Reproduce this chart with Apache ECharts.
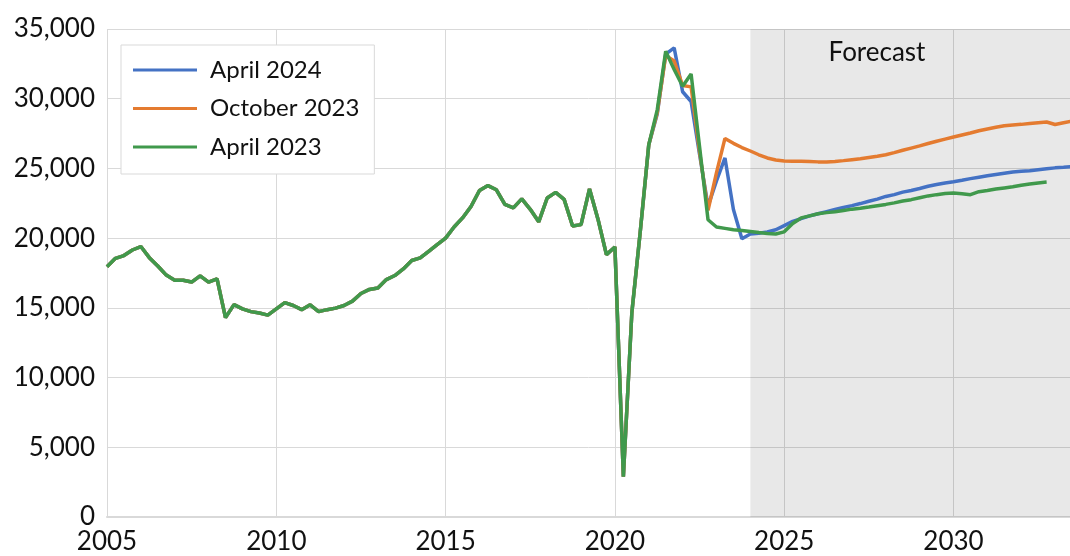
<!DOCTYPE html>
<html>
<head>
<meta charset="utf-8">
<script src="https://cdn.jsdelivr.net/npm/echarts@6/dist/echarts.min.js"></script>
<style>
html,body{margin:0;padding:0;background:#fff;}
#chart{width:1070px;height:556px;}
</style>
</head>
<body>
<div id="chart"></div>
<script>
// Quarterly series, first point = 2005 Q1
const startYear = 2005;
const forecastStart = 2024;
const xMin = 2005, xMax = 2033.44;
const seriesNames = ['April 2024', 'October 2023', 'April 2023'];
const seriesColors = ['#4472C4', '#E47B30', '#40994C'];

// Shared history 2005Q1 .. 2021Q1
const history = [
  17950, 18550, 18750, 19150,
  19400, 18600, 18000, 17350,
  16980, 16980, 16850, 17300,
  16850, 17080, 14300, 15230,
  14930, 14730, 14630, 14480,
  14930, 15380, 15170, 14870,
  15220, 14730, 14870, 14980,
  15170, 15480, 16030, 16320,
  16430, 17030, 17320, 17790,
  18400, 18580, 19050, 19530,
  20000, 20800, 21450, 22270,
  23420, 23770, 23470, 22420,
  22170, 22820, 22070, 21170,
  22880, 23280, 22780, 20870,
  20970, 23530, 21360, 18820,
  19370, 2900, 14650, 20500,
  26700
];

// Each vintage from 2021Q2 onward
const april2024 = [
  28900, 33200, 33650,
  30500, 29800, 26000, 22300,
  24100, 25750, 22050, 19950,
  20300, 20350, 20450, 20600,
  20900, 21200, 21400, 21600,
  21750, 21900, 22050, 22200,
  22330, 22480, 22650, 22800,
  22990, 23120, 23300, 23420,
  23560, 23720, 23850, 23960,
  24040, 24150, 24270, 24370,
  24470, 24560, 24650, 24740,
  24790, 24830, 24900, 24970,
  25040, 25080, 25130
];
const october2023 = [
  29000, 33100, 32700,
  30950, 30850, 26200, 22000,
  24700, 27150, 26800, 26500,
  26250, 25980, 25750, 25600,
  25530, 25520, 25510, 25490,
  25470, 25460, 25500, 25560,
  25630, 25700, 25790, 25880,
  25980, 26130, 26300, 26460,
  26620, 26790, 26950, 27100,
  27250, 27400, 27540, 27700,
  27830, 27950, 28060, 28120,
  28160, 28220, 28280, 28330,
  28150, 28280, 28400
];
const april2023 = [
  29200, 33400, 32100,
  30900, 31780, 26550, 21320,
  20800, 20700, 20600, 20550,
  20480, 20400, 20330, 20300,
  20450, 21050, 21450, 21600,
  21750, 21830, 21900, 21990,
  22080, 22150, 22230, 22330,
  22420, 22530, 22660, 22760,
  22900, 23030, 23120, 23200,
  23230, 23190, 23120, 23330,
  23420, 23520, 23600, 23680,
  23790, 23880, 23960, 24020
];

function toPairs(tail) {
  const vals = history.concat(tail);
  return vals.map((v, i) => [startYear + i * 0.25, v]);
}
const tails = [april2024, october2023, april2023];

const FONT = 'Lato';
const chart = echarts.init(document.getElementById('chart'), null, {renderer: 'canvas'});

const series = tails.map((t, k) => ({
  name: seriesNames[k],
  type: 'line',
  data: toPairs(t),
  showSymbol: false,
  symbol: 'none',
  smooth: false,
  lineStyle: {width: 3.5, color: seriesColors[k]},
  itemStyle: {color: seriesColors[k]},
  z: 3 + k
}));
series[0].markArea = {
  silent: true,
  itemStyle: {color: 'rgba(0,0,0,0.09)'},
  data: [[{xAxis: forecastStart}, {xAxis: xMax}]]
};

chart.setOption({
  animation: false,
  backgroundColor: '#fff',
  grid: {left: 107, right: 0, top: 29, bottom: 39, containLabel: false},
  legend: {
    data: seriesNames,
    orient: 'vertical',
    left: 121, top: 45,
    padding: [12, 15, 14, 12],
    itemGap: 12.5,
    itemWidth: 64, itemHeight: 3,
    icon: 'rect',
    backgroundColor: '#fff',
    borderColor: '#d9d9d9', borderWidth: 1,
    textStyle: {fontFamily: FONT, fontSize: 24, color: '#111', lineHeight: 26, padding: [0, 0, 0, 8]}
  },
  graphic: [{
    type: 'text', x: 877, y: 53, z: 100,
    style: {text: 'Forecast', font: '26px Lato', fill: '#111', align: 'center', verticalAlign: 'middle', textAlign: 'center', textVerticalAlign: 'middle'}
  }],
  xAxis: {
    type: 'value', min: xMin, max: xMax, interval: 5,
    axisLine: {show: true, lineStyle: {color: '#d9d9d9', width: 2}},
    axisTick: {show: false},
    splitLine: {show: true, lineStyle: {color: '#d9d9d9', width: 1}},
    axisLabel: {
      fontFamily: FONT, fontSize: 26, color: '#111', margin: 12, showMaxLabel: false,
      formatter: v => (Math.abs(v % 5) < 1e-9 ? String(v) : '')
    }
  },
  yAxis: {
    type: 'value', min: 0, max: 35000, interval: 5000,
    axisLine: {show: false},
    axisTick: {show: false},
    splitLine: {show: true, lineStyle: {color: '#d9d9d9', width: 1}},
    axisLabel: {
      fontFamily: FONT, fontSize: 26, color: '#111', margin: 12, padding: [0, 0, 9, 0],
      formatter: v => v.toLocaleString('en-US')
    }
  },
  series: series
});
</script>
</body>
</html>
